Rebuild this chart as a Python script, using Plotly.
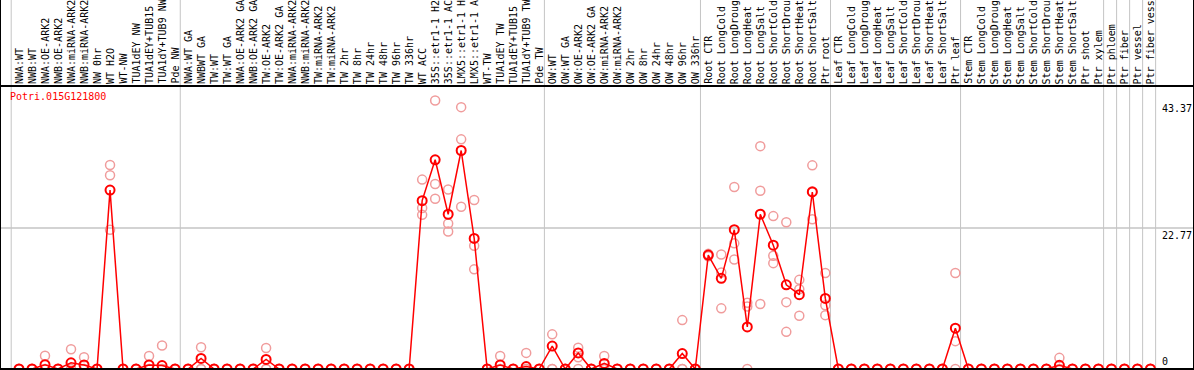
import plotly.graph_objects as go

labels = [
    "NWA:WT", "NWB:WT", "NWA:OE-ARK2", "NWB:OE-ARK2", "NWA:miRNA-ARK2", "NWB:miRNA-ARK2",
    "NW 0hr", "WT H2O", "WT-NW", "TUA1dEY NW", "TUA1dEY+TUB15", "TUA1dY+TUB9 NW", "Pde NW",
    "NWA:WT GA", "NWBWT GA", "TW:WT", "TW:WT GA", "NWA:OE-ARK2 GA", "NWB:OE-ARK2 GA",
    "TW:OE-ARK2", "TW:OE-ARK2 GA", "NWA:miRNA-ARK2", "NWB:miRNA-ARK2", "TW:miRNA-ARK2",
    "TW:miRNA-ARK2", "TW 2hr", "TW 8hr", "TW 24hr", "TW 48hr", "TW 96hr", "TW 336hr",
    "WT ACC", "35S::etr1-1 H2", "35S::etr1-1 AC", "LMX5::etr1-1 H", "LMX5::etr1-1 A",
    "WT-TW", "TUA1dEY TW", "TUA1dEY+TUB15", "TUA1dY+TUB9 TW", "Pde TW",
    "OW:WT", "OW:WT GA", "OW:OE-ARK2", "OW:OE-ARK2 GA", "OW:miRNA-ARK2", "OW:miRNA-ARK2",
    "OW 2hr", "OW 8hr", "OW 24hr", "OW 48hr", "OW 96hr", "OW 336hr",
    "Root CTR", "Root LongCold", "Root LongDroug", "Root LongHeat", "Root LongSalt",
    "Root ShortCold", "Root ShortDrou", "Root ShortHeat", "Root ShortSalt", "Ptr root",
    "Leaf CTR", "Leaf LongCold", "Leaf LongDroug", "Leaf LongHeat", "Leaf LongSalt",
    "Leaf ShortCold", "Leaf ShortDrou", "Leaf ShortHeat", "Leaf ShortSalt", "Ptr leaf",
    "Stem CTR", "Stem LongCold", "Stem LongDroug", "Stem LongHeat", "Stem LongSalt",
    "Stem ShortCold", "Stem ShortDrou", "Stem ShortHeat", "Stem ShortSalt", "Ptr shoot",
    "Ptr xylem", "Ptr phloem", "Ptr fiber", "Ptr vessel", "Ptr fiber vess",
]

mean_values = [
    0, 0, 0.7, 0, 1.0, 0.65, 0, 28.9, 0, 0, 0.65, 0.55, 0,
    0, 1.7, 0, 0, 0, 0, 1.55, 0, 0, 0, 0, 0, 0, 0, 0, 0, 0, 0,
    27.2, 33.8, 25.0, 35.3, 21.1, 0, 0.65, 0, 0.4, 0,
    3.7, 0, 2.6, 0, 0.9, 0, 0, 0, 0, 0, 2.5, 0,
    18.4, 14.65, 22.5, 6.8, 25.0, 20.0, 13.6, 12.0, 28.6, 11.4,
    0, 0, 0, 0, 0, 0, 0, 0, 0, 6.6,
    0, 0, 0, 0, 0, 0, 0, 0.6, 0, 0,
    0, 0, 0, 0, 0,
]

rep_a = [
    0, 0, 2.15, 0, 3.2, 1.9, 0, 32.96, 0, 0, 2.1, 3.8, 0,
    0, 3.5, 0, 0, 0, 0, 3.4, 0, 0, 0, 0, 0, 0, 0, 0, 0, 0, 0,
    30.6, 43.37, 29.0, 42.3, 27.3, 0, 2.1, 0, 2.6, 0,
    5.6, 0, 3.45, 0, 2.1, 0, 0, 0, 0, 0, 7.9, 0,
    18.6, 18.5, 29.4, 10.7, 36.0, 24.7, 23.7, 14.4, 32.9, 15.5,
    0, 0, 0, 0, 0, 0, 0, 0, 0, 15.5,
    0, 0, 0, 0, 0, 0, 0, 1.8, 0, 0,
    0, 0, 0, 0, 0,
]

rep_b = [
    0, 0, 0, 0, 0, 0, 0, 31.3, 0, 0, 0, 0, 0,
    0, 0, 0, 0, 0, 0, 0, 0, 0, 0, 0, 0, 0, 0, 0, 0, 0, 0,
    26.0, 29.9, 23.5, 37.1, 19.9, 0, 0, 0, 0, 0,
    0, 0, 1.9, 0, 0, 0, 0, 0, 0, 0, 0, 0,
    18.4, 15.6, 20.3, 10.1, 28.8, 18.3, 10.8, 12.9, 28.7, 10.3,
    0, 0, 0, 0, 0, 0, 0, 0, 0, 4.5,
    0, 0, 0, 0, 0, 0, 0, 0, 0, 0,
    0, 0, 0, 0, 0,
]

rep_c = [
    0, 0, 0, 0, 0, 0, 0, 22.5, 0, 0, 0, 0, 0,
    0, 0, 0, 0, 0, 0, 0, 0, 0, 0, 0, 0, 0, 0, 0, 0, 0, 0,
    24.9, 27.5, 22.2, 26.2, 16.1, 0, 0, 0, 0, 0,
    0, 0, 0, 0, 0, 0, 0, 0, 0, 0, 0, 0,
    18.2, 9.8, 17.7, 0, 10.5, 17.1, 6.0, 8.6, 24.2, 8.7,
    0, 0, 0, 0, 0, 0, 0, 0, 0, 0,
    0, 0, 0, 0, 0, 0, 0, 0, 0, 0,
    0, 0, 0, 0, 0,
]

gene_name = "Potri.015G121800"
y_tick_values = [43.37, 22.77, 0]
y_tick_labels = ["43.37", "22.77", "0"]
group_boundaries = [0, 13, 41, 53, 63, 73, 84, 85, 86, 87, 88]

W, H = 1194, 370
TOP = 86
PLOT_H = H - TOP
FONT = "DejaVu Sans Mono"
RED = "#ff0000"
PINK = "#f09c9c"
GRID = "#c4c4c4"

def py(p):
    return (H - p) / PLOT_H

x_idx = list(range(len(labels)))
x_range = [(0 - 19) / 13.005, (W - 19) / 13.005]
px_per_unit = 6.19
y_range = [-(H - 369) / px_per_unit, (369 - TOP) / px_per_unit]

fig = go.Figure()

for reps in (rep_a, rep_b, rep_c):
    fig.add_trace(go.Scatter(
        x=x_idx, y=reps, mode="markers", cliponaxis=False,
        marker=dict(symbol="circle-open", size=9, color=PINK, line=dict(width=1.5, color=PINK)),
        hoverinfo="skip",
    ))

fig.add_trace(go.Scatter(
    x=x_idx, y=mean_values, mode="lines+markers", cliponaxis=False,
    line=dict(color=RED, width=1.5),
    marker=dict(symbol="circle-open", size=9, color=RED, line=dict(width=2, color=RED)),
))

shapes = []
for n in group_boundaries:
    shapes.append(dict(type="line", xref="x", yref="paper", x0=n - 0.6, x1=n - 0.6,
                       y0=0, y1=py(0), line=dict(color=GRID, width=1), layer="below"))
shapes.append(dict(type="line", xref="paper", yref="y", x0=0, x1=1, y0=22.77, y1=22.77,
                   line=dict(color=GRID, width=1.5), layer="below"))
shapes.append(dict(type="line", xref="paper", yref="y", x0=0, x1=1, y0=0, y1=0,
                   line=dict(color="black", width=2)))
shapes.append(dict(type="line", xref="paper", yref="paper", x0=0, x1=1, y0=1, y1=1,
                   line=dict(color="black", width=2)))
for xb in (0, 1):
    shapes.append(dict(type="line", xref="paper", yref="paper", x0=xb, x1=xb, y0=0, y1=py(0),
                       line=dict(color="black", width=2)))

annotations = []
for i, lab in enumerate(labels):
    annotations.append(dict(x=i, y=1.0, xref="x", yref="paper", text=lab, showarrow=False,
                            textangle=-90, xanchor="center", yanchor="bottom",
                            font=dict(family=FONT, size=10, color="black")))
annotations.append(dict(x=8 / W, y=py(89), xref="paper", yref="paper", text=gene_name,
                        showarrow=False, xanchor="left", yanchor="top",
                        font=dict(family=FONT, size=10, color=RED)))
for v, t in zip(y_tick_values, y_tick_labels):
    annotations.append(dict(x=1160 / W, y=v, xref="paper", yref="y", text=t, showarrow=False,
                            xanchor="left", yanchor="top" if v > 0 else "bottom",
                            font=dict(family=FONT, size=10, color="black")))

fig.update_layout(
    width=W, height=H,
    margin=dict(l=0, r=0, t=TOP, b=0, pad=0),
    paper_bgcolor="white", plot_bgcolor="white",
    showlegend=False,
    xaxis=dict(visible=False, range=x_range, fixedrange=True),
    yaxis=dict(visible=False, range=y_range, fixedrange=True),
    shapes=shapes,
    annotations=annotations,
)

fig.write_html(
    "out.html",
    config={"displayModeBar": False},
    post_script="document.body.style.margin='0';document.body.style.overflow='hidden';",
)
